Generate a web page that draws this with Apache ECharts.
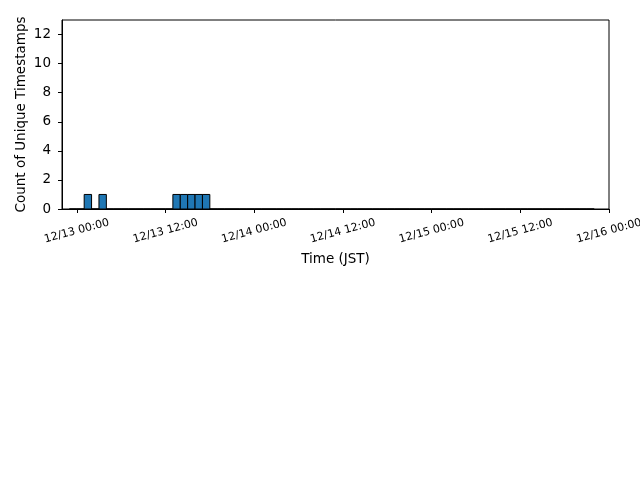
<!DOCTYPE html>
<html>
<head>
<meta charset="utf-8">
<script src="https://cdn.jsdelivr.net/npm/echarts@6/dist/echarts.min.js"></script>
<style>
html,body{margin:0;padding:0;background:#fff;}
#chart{width:640px;height:480px;}
</style>
</head>
<body>
<div id="chart"></div>
<script>
// Histogram: hourly bins, first bin starts 12/12 23:00 (hour offset -1 from 12/13 00:00)
const firstBinHour = -1;
const binWidthHours = 1;
const counts = [
  0, 0, 1, 0, 1, 0, 0, 0, 0, 0, 0, 0, 0, 0, 1, 1, 1, 1, 1, 0,
  0, 0, 0, 0, 0, 0, 0, 0, 0, 0, 0, 0, 0, 0, 0, 0, 0, 0, 0, 0,
  0, 0, 0, 0, 0, 0, 0, 0, 0, 0, 0, 0, 0, 0, 0, 0, 0, 0, 0, 0,
  0, 0, 0, 0, 0, 0, 0, 0, 0, 0, 0
];
const xTickHours = [0, 12, 24, 36, 48, 60, 72];
const xTickLabels = ['12/13 00:00', '12/13 12:00', '12/14 00:00', '12/14 12:00', '12/15 00:00', '12/15 12:00', '12/16 00:00'];
const xMinHour = -2;
const xMaxHour = 72;
const yTicks = [0, 2, 4, 6, 8, 10, 12];
const yMax = 13;

const bins = counts.map((c, i) => [firstBinHour + i * binWidthHours, firstBinHour + (i + 1) * binWidthHours, c]);

const chart = echarts.init(document.getElementById('chart'), null, {renderer: 'canvas'});
const font = 'DejaVu Sans';
chart.setOption({
  animation: false,
  backgroundColor: '#fff',
  grid: {left: 62, right: 31, top: 20, bottom: 271, containLabel: false, outerBoundsMode: 'none',
         show: true, borderColor: '#000', borderWidth: 1, backgroundColor: 'transparent'},
  xAxis: {
    type: 'value', min: xMinHour, max: xMaxHour,
    name: 'Time (JST)', nameLocation: 'middle', nameGap: 43,
    nameTextStyle: {fontFamily: font, fontSize: 13.5, color: '#000'},
    axisLine: {show: true, onZero: false, lineStyle: {color: '#000', width: 1}},
    axisTick: {show: true, inside: false, length: 4, lineStyle: {color: '#000'}, customValues: xTickHours},
    axisLabel: {
      customValues: xTickHours, rotate: 15, align: 'center', verticalAlign: 'middle', margin: 22,
      fontFamily: font, fontSize: 11, color: '#000', hideOverlap: false,
      formatter: v => { const i = xTickHours.indexOf(v); return i >= 0 ? xTickLabels[i] : ''; }
    },
    splitLine: {show: false}
  },
  yAxis: {
    type: 'value', min: 0, max: yMax,
    name: 'Count of Unique Timestamps', nameLocation: 'middle', nameGap: 34, nameMoveOverlap: false,
    nameTextStyle: {fontFamily: font, fontSize: 13.5, color: '#000'},
    axisLine: {show: true, onZero: false, lineStyle: {color: '#000', width: 1}},
    axisTick: {show: true, inside: false, length: 4, lineStyle: {color: '#000'}, customValues: yTicks},
    axisLabel: {customValues: yTicks, margin: 11, fontFamily: font, fontSize: 13.5, color: '#000'},
    splitLine: {show: false}
  },
  series: [{
    type: 'custom',
    data: bins,
    encode: {x: [0, 1], y: 2},
    renderItem: function (params, api) {
      const p0 = api.coord([api.value(0), api.value(2)]);
      const p1 = api.coord([api.value(1), 0]);
      return {
        type: 'rect',
        shape: {x: p0[0], y: p0[1], width: p1[0] - p0[0], height: p1[1] - p0[1]},
        style: {fill: '#1f77b4', stroke: '#000', lineWidth: 1}
      };
    }
  }]
});
</script>
</body>
</html>
